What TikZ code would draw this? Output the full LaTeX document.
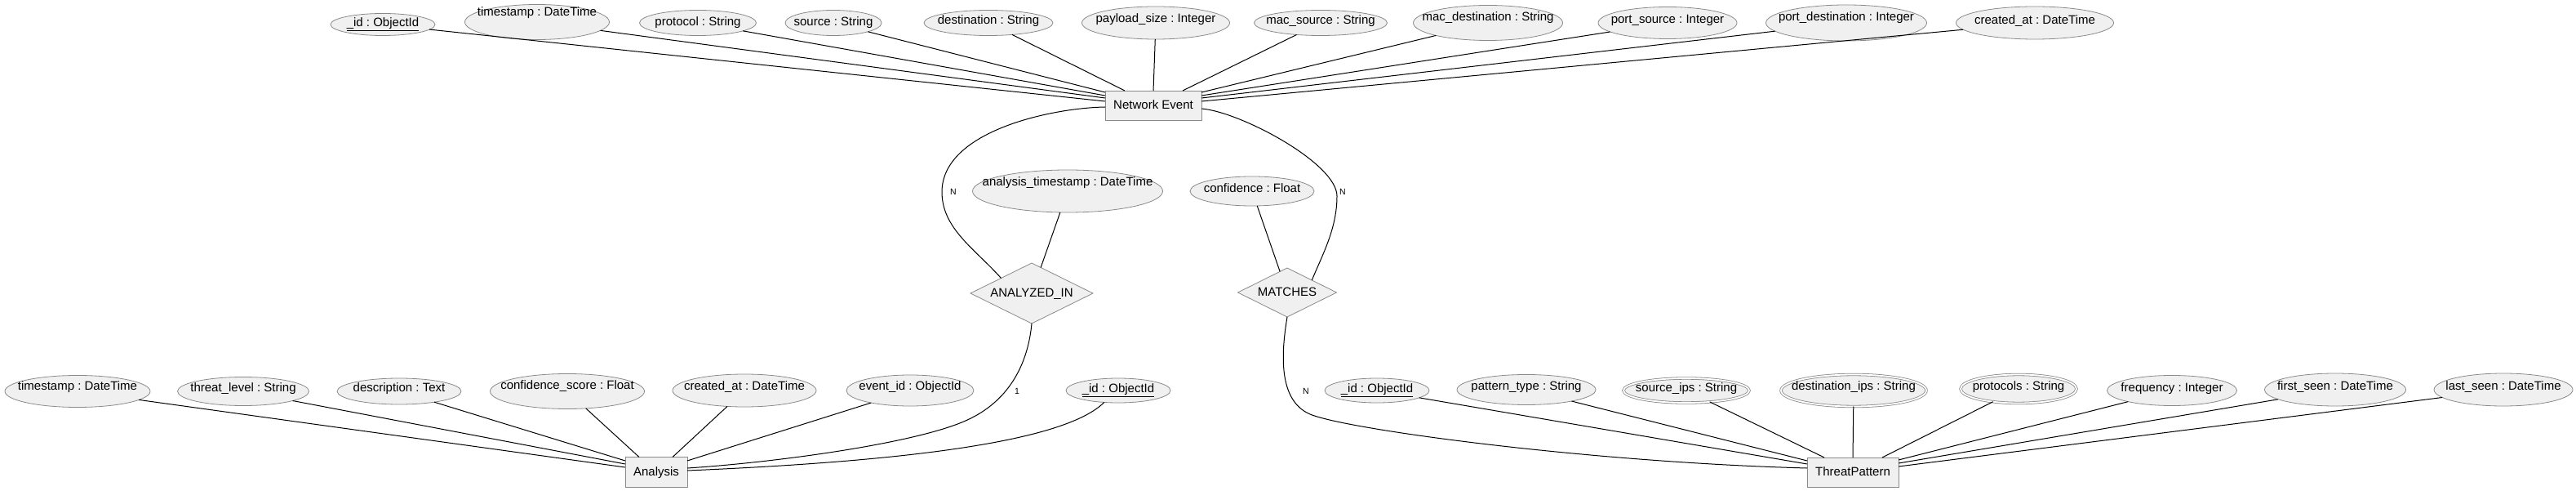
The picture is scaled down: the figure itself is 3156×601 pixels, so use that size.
\documentclass[tikz,border=0pt]{standalone}
\usepackage{fontspec}
\setmainfont{Liberation Sans}
\usetikzlibrary{shapes.geometric}
\definecolor{attrfill}{HTML}{F0F0F0}
\definecolor{bordergray}{HTML}{8A8A8A}
\frenchspacing
% text placed at node centre, shifted up by #1 pt, not counted in the shape size
\newcommand\etxt[2]{\makebox[0pt]{\smash{\raisebox{\dimexpr #1pt-4.8pt\relax}{#2}}}}
\tikzset{
  base/.style={draw=bordergray, fill=attrfill, line width=0.8pt, inner sep=0pt, outer sep=0pt,
    font=\fontsize{15}{17}\selectfont},
  sz/.style 2 args={minimum width=#1pt, minimum height=#2pt},
  attr/.style={base, ellipse},
  mattr/.style={base, ellipse, double=white, double distance=1.8pt},
  ent/.style={base, rectangle},
  rel/.style={base, diamond},
  conn/.style={draw=black, line width=1pt},
  card/.style={font=\fontsize{10.5}{12}\selectfont, inner sep=0pt}
}
\begin{document}
\begin{tikzpicture}[x=1pt,y=-1pt]
\path[fill=white, use as bounding box] (0,0) rectangle (3156,601);

% entities
\node[ent, sz={118}{36}] (ne) at (1413,129) {\etxt{0}{Network Event}};
\node[ent, sz={76}{37}]  (an) at (804,578)  {\etxt{0}{Analysis}};
\node[ent, sz={112}{36}] (tp) at (2270,578) {\etxt{0}{ThreatPattern}};

% relationships
\node[rel, sz={150}{74}] (rai) at (1264,359) {\etxt{0}{ANALYZED\_IN}};
\node[rel, sz={121}{60}] (rma) at (1577,358) {\etxt{0}{MATCHES}};
\node[attr, sz={233}{52}] (ra1) at (1308,234) {\etxt{11}{analysis\_timestamp : DateTime}};
\node[attr, sz={152}{36}] (rm1) at (1534,234) {\etxt{3}{confidence : Float}};

% Network Event attributes
\node[attr, sz={128}{27}] (na1)  at (469,30)   {\etxt{2}{\underline{\_id : ObjectId}}};
\node[attr, sz={177}{43}] (na2)  at (658,27)   {\etxt{12}{timestamp : DateTime}};
\node[attr, sz={143}{31}] (na3)  at (855,28)   {\etxt{1}{protocol : String}};
\node[attr, sz={118}{31}] (na4)  at (1021,28)  {\etxt{1}{source : String}};
\node[attr, sz={158}{31}] (na5)  at (1211,28)  {\etxt{3}{destination : String}};
\node[attr, sz={181}{40}] (na6)  at (1416,28)  {\etxt{5}{payload\_size : Integer}};
\node[attr, sz={163}{31}] (na7)  at (1618,28)  {\etxt{3}{mac\_source : String}};
\node[attr, sz={183}{43}] (na8)  at (1823,28)  {\etxt{7}{mac\_destination : String}};
\node[attr, sz={170}{39}] (na9)  at (2043,28)  {\etxt{4}{port\_source : Integer}};
\node[attr, sz={197}{44}] (na10) at (2262,28)  {\etxt{7}{port\_destination : Integer}};
\node[attr, sz={193}{40}] (na11) at (2493,28)  {\etxt{3}{created\_at : DateTime}};

% Analysis attributes
\node[attr, sz={178}{39}] (b1) at (95,479)   {\etxt{6}{timestamp : DateTime}};
\node[attr, sz={161}{35}] (b2) at (298,479)  {\etxt{4}{threat\_level : String}};
\node[attr, sz={152}{32}] (b3) at (489,479)  {\etxt{4}{description : Text}};
\node[attr, sz={189}{43}] (b4) at (695,479)  {\etxt{7}{confidence\_score : Float}};
\node[attr, sz={176}{40}] (b5) at (912,478)  {\etxt{5}{created\_at : DateTime}};
\node[attr, sz={156}{38}] (b6) at (1115,478) {\etxt{5}{event\_id : ObjectId}};
\node[attr, sz={128}{30}] (b7) at (1370,478) {\etxt{2}{\underline{\_id : ObjectId}}};

% ThreatPattern attributes
\node[attr, sz={128}{30}]  (c1) at (1687,478) {\etxt{2}{\underline{\_id : ObjectId}}};
\node[attr, sz={170}{37}]  (c2) at (1870,477) {\etxt{4}{pattern\_type : String}};
\node[mattr, sz={154}{30}] (c3) at (2066,478) {\etxt{3}{source\_ips : String}};
\node[mattr, sz={178}{39}] (c4) at (2271,478) {\etxt{5}{destination\_ips : String}};
\node[mattr, sz={142}{35}] (c5) at (2473,476) {\etxt{3}{protocols : String}};
\node[attr, sz={159}{37}]  (c6) at (2661,478) {\etxt{3}{frequency : Integer}};
\node[attr, sz={173}{40}]  (c7) at (2861,477) {\etxt{4}{first\_seen : DateTime}};
\node[attr, sz={170}{40}]  (c8) at (3067,477) {\etxt{4}{last\_seen : DateTime}};

% Network Event attribute connectors
\draw[conn] (na1)  -- ([yshift=5pt]ne.west);
\draw[conn] (na2)  -- ([yshift=9pt]ne.west);
\draw[conn] (na3)  -- ([yshift=12pt]ne.west);
\draw[conn] (na4)  -- ([yshift=16pt]ne.west);
\draw[conn] (na5)  -- ([xshift=-35pt]ne.north);
\draw[conn] (na6)  -- (ne.north);
\draw[conn] (na7)  -- ([xshift=36pt]ne.north);
\draw[conn] (na8)  -- ([yshift=16pt]ne.east);
\draw[conn] (na9)  -- ([yshift=12pt]ne.east);
\draw[conn] (na10) -- ([yshift=9pt]ne.east);
\draw[conn] (na11) -- ([yshift=5pt]ne.east);

% Analysis attribute connectors
\draw[conn] (b1) -- ([yshift=6pt]an.west);
\draw[conn] (b2) -- ([yshift=10pt]an.west);
\draw[conn] (b3) -- ([yshift=14pt]an.west);
\draw[conn] (b4) -- ([xshift=-21pt]an.north);
\draw[conn] (b5) -- ([xshift=20pt]an.north);
\draw[conn] (b6) -- ([yshift=14pt]an.east);
\draw[conn] (b7.220) .. controls (1310,535) and (1150,563) .. ([yshift=2pt]an.east);

% ThreatPattern attribute connectors
\draw[conn] (c1) -- ([yshift=10pt]tp.west);
\draw[conn] (c2) -- ([yshift=14pt]tp.west);
\draw[conn] (c3) -- ([xshift=-35pt]tp.north);
\draw[conn] (c4) -- (tp.north);
\draw[conn] (c5) -- ([xshift=36pt]tp.north);
\draw[conn] (c6) -- ([yshift=15pt]tp.east);
\draw[conn] (c7) -- ([yshift=11pt]tp.east);
\draw[conn] (c8) -- ([yshift=7pt]tp.east);

% relationship attribute connectors
\draw[conn] (ra1) -- (rai);
\draw[conn] (rm1) -- (rma);

% relationship connectors
\draw[conn] ([yshift=-2pt]ne.west) .. controls (1290,132) and (1154,160) .. (1154,235)
  .. controls (1154,280) and (1195,305) .. (rai.north west);
\draw[conn] ([yshift=-4pt]ne.east) .. controls (1520,137) and (1638,200) .. (1638,240)
  .. controls (1638,280) and (1620,312) .. (rma.north east);
\draw[conn] (rai.south) .. controls (1260,440) and (1240,490) .. (1183,515)
  .. controls (1120,543) and (950,566) .. ([yshift=5pt]an.east);
\draw[conn] (rma.south) .. controls (1570,430) and (1565,490) .. (1605,507)
  .. controls (1650,526) and (1950,566) .. ([yshift=5pt]tp.west);

% cardinalities
\node[card] (k1) at (1168,235) {N};
\node[card] (k2) at (1645,235) {N};
\node[card] (k3) at (1246,479) {1};
\node[card] (k4) at (1600,479) {N};
\end{tikzpicture}
\end{document}
